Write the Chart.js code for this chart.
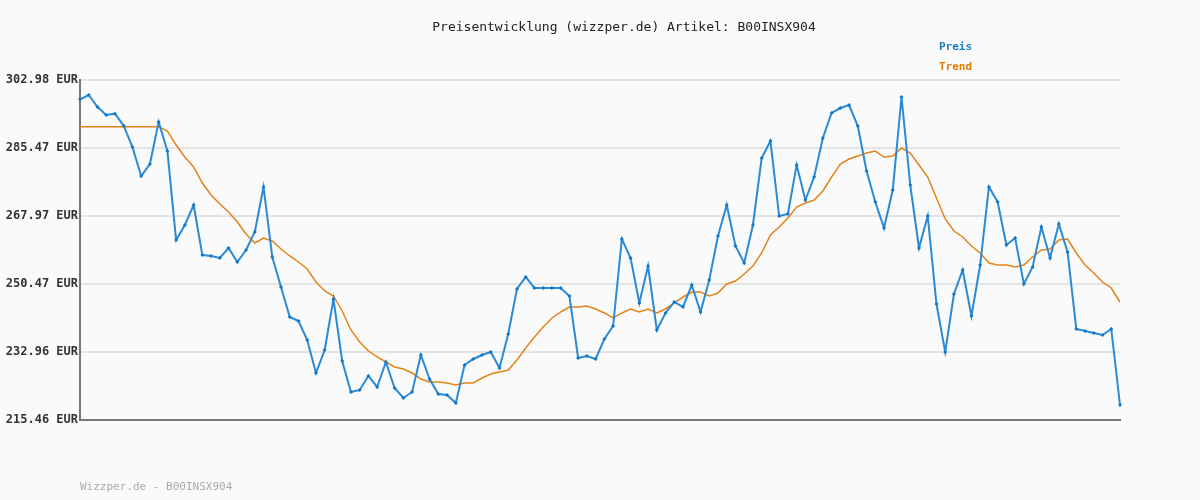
<!DOCTYPE html>
<html lang="de">
<head>
  <meta charset="utf-8"/>
  <title>Preisentwicklung B00INSX904</title>
  <script src="https://cdn.jsdelivr.net/npm/chart.js"></script>
  <style>
    body { margin: 0; background: #fafafa; }
    .wrap { position: relative; width: 1200px; height: 500px; }
    .foot { position: absolute; left: 80px; top: 480px; font: 11px "DejaVu Sans Mono", monospace; color: #aaa; }
  </style>
</head>
<body>
<div class="wrap">
  <canvas id="chart" width="1200" height="500"></canvas>
  <div class="foot">Wizzper.de - B00INSX904</div>
</div>
<script>
  // Preise, von links nach rechts
  const preis = [
    298.01, 299.12, 296.03, 293.97, 294.31, 291.22, 285.73, 278.27, 281.36, 292.17,
    284.70, 261.80, 265.66, 270.80, 257.93, 257.68, 257.16, 259.74, 256.13, 259.22,
    263.86, 275.44, 257.42, 249.70, 241.98, 240.95, 236.06, 227.56, 233.48, 246.61,
    230.65, 222.67, 223.19, 226.79, 223.96, 230.39, 223.70, 221.13, 222.67, 232.19,
    226.02, 222.16, 221.90, 219.84, 229.62, 231.17, 232.19, 232.97, 228.85, 237.60,
    249.18, 252.27, 249.44, 249.44, 249.44, 249.44, 247.38, 231.42, 231.94, 231.17,
    236.31, 239.66, 262.05, 257.16, 245.58, 255.10, 238.63, 243.01, 245.84, 244.55,
    250.21, 243.26, 251.50, 262.83, 270.80, 260.25, 255.88, 265.66, 282.90, 287.28,
    267.97, 268.49, 281.10, 272.09, 278.01, 288.05, 294.49, 295.77, 296.54, 291.14,
    279.56, 271.58, 264.88, 274.67, 298.60, 275.95, 259.74, 267.97, 245.32, 232.97,
    247.90, 254.07, 242.23, 255.36, 275.44, 271.58, 260.51, 262.31, 250.47, 254.85,
    265.14, 257.16, 265.91, 258.71, 238.89, 238.37, 237.86, 237.34, 238.89, 219.32
  ];
  const trend = [
    290.96, 290.96, 290.96, 290.96, 290.96, 290.96, 290.96, 290.96, 290.96, 290.96,
    289.85, 286.25, 283.16, 280.59, 276.47, 273.38, 271.06, 269.00, 266.43, 263.34,
    261.02, 262.31, 261.54, 259.48, 257.68, 256.13, 254.33, 250.98, 248.67, 247.38,
    243.52, 238.63, 235.54, 233.22, 231.68, 230.39, 229.11, 228.59, 227.56, 226.02,
    225.25, 225.25, 224.99, 224.47, 224.99, 224.99, 226.27, 227.30, 227.82, 228.33,
    230.91, 234.00, 236.83, 239.40, 241.72, 243.26, 244.55, 244.55, 244.81, 244.04,
    243.01, 241.72, 243.01, 244.04, 243.26, 244.04, 243.01, 244.04, 245.58, 247.12,
    248.41, 248.41, 247.38, 248.15, 250.47, 251.24, 253.04, 255.10, 258.45, 263.08,
    265.14, 267.46, 270.29, 271.32, 272.09, 274.41, 278.01, 281.36, 282.65, 283.42,
    284.19, 284.70, 283.16, 283.42, 285.48, 284.19, 281.10, 278.01, 272.61, 267.20,
    264.11, 262.57, 260.25, 258.45, 255.88, 255.36, 255.36, 254.85, 255.36, 257.42,
    259.22, 259.48, 261.80, 262.05, 258.45, 255.36, 253.30, 250.98, 249.44, 245.84
  ];
  const yTicks = [215.46, 232.96, 250.47, 267.97, 285.47, 302.98];
  const labels = preis.map((_, i) => i + 1);

  const mono = '"DejaVu Sans Mono", monospace';

  // Titel und Legende als Text auf dem Canvas
  const textPlugin = {
    id: 'texte',
    afterDraw(chart) {
      const c = chart.ctx;
      c.save();
      c.font = '13px ' + mono;
      c.fillStyle = '#222';
      c.textAlign = 'center';
      c.textBaseline = 'middle';
      c.fillText('Preisentwicklung (wizzper.de) Artikel: B00INSX904', 624, 28);
      c.font = 'bold 11px ' + mono;
      c.textAlign = 'left';
      c.fillStyle = '#1a7fc4';
      c.fillText('Preis', 939, 47);
      c.fillStyle = '#e07b00';
      c.fillText('Trend', 939, 67);
      c.restore();
    }
  };

  new Chart(document.getElementById('chart'), {
    type: 'line',
    data: {
      labels: labels,
      datasets: [
        {
          label: 'Trend',
          data: trend,
          borderColor: '#e2841a',
          borderWidth: 1.5,
          pointRadius: 0,
          tension: 0,
          order: 2
        },
        {
          label: 'Preis',
          data: preis,
          borderColor: '#2a8ad6',
          backgroundColor: '#0f78c8',
          borderWidth: 2,
          pointStyle: 'rectRot',
          pointRadius: 2,
          pointBorderWidth: 0,
          tension: 0,
          order: 1
        }
      ]
    },
    options: {
      responsive: false,
      animation: false,
      layout: { padding: { top: 80, bottom: 80, left: 0, right: 80 } },
      plugins: { legend: { display: false }, title: { display: false }, tooltip: { enabled: false } },
      scales: {
        x: {
          offset: false,
          grid: { display: false },
          ticks: { display: false },
          border: { color: '#777', width: 2 },
          afterFit(s) { s.height = 0; }
        },
        y: {
          min: 215.46,
          max: 302.98,
          afterBuildTicks(s) { s.ticks = yTicks.map(v => ({ value: v })); },
          afterFit(s) { s.width = 80; },
          grid: { color: '#e4e4e4', lineWidth: 2, tickLength: 4, drawTicks: false },
          border: { color: '#777', width: 2 },
          ticks: {
            padding: 2,
            color: '#333',
            font: { family: mono, size: 12, weight: 'bold' },
            callback: v => v.toFixed(2) + ' EUR'
          }
        }
      }
    },
    plugins: [textPlugin]
  });
</script>
</body>
</html>
